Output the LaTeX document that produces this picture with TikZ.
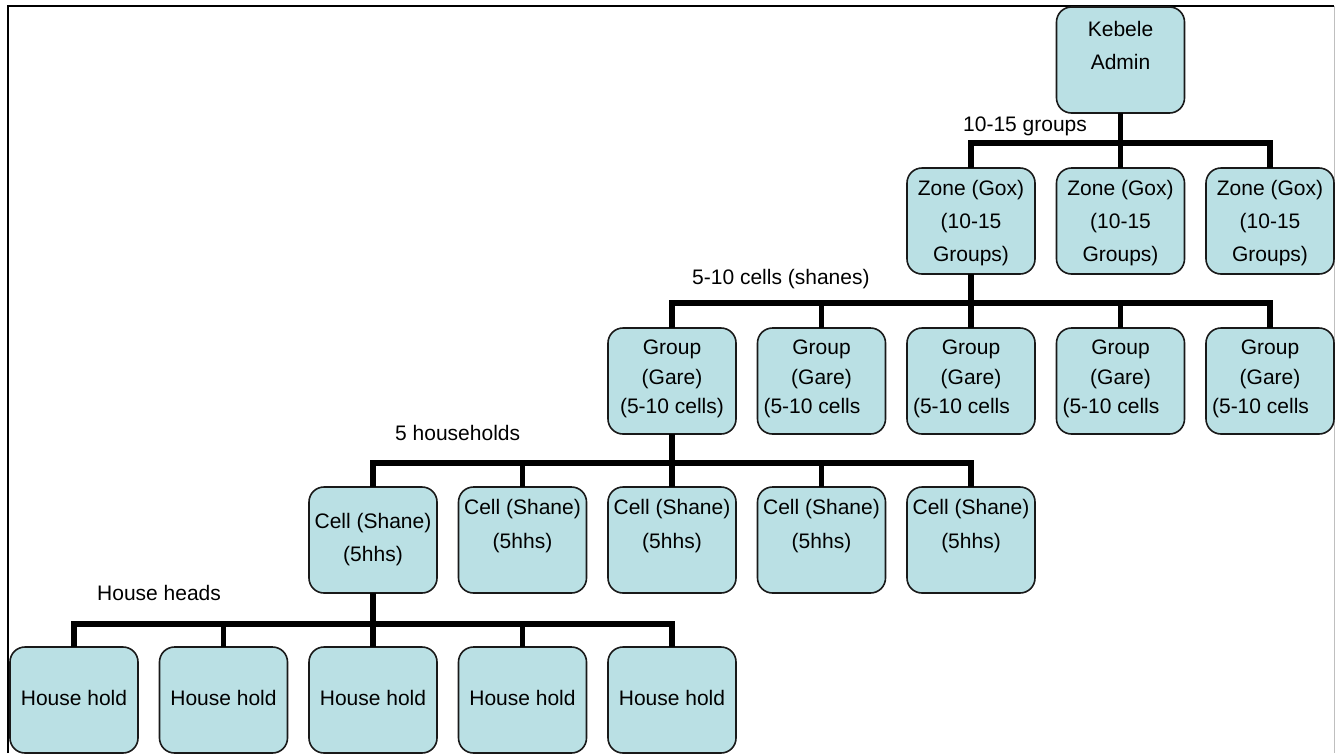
\documentclass[tikz,border=0pt]{standalone}
\usepackage{fontspec}
\setmainfont{Liberation Sans}
\definecolor{boxfill}{RGB}{186,224,228}
\newcommand{\bt}[3]{\parbox[c][106pt][t]{128pt}{\centering\fontsize{21}{#2}\selectfont\vspace*{\dimexpr#1pt-20pt\relax}\rule{0pt}{20pt}#3}}
\tikzset{
  orgbox/.style={draw=black!90, line width=1.6pt, fill=boxfill, rounded corners=15pt, inner sep=0pt, outer sep=0pt},
  conn/.style={line width=5.5pt, line join=miter},
  lab/.style={anchor=base west, inner sep=0pt, font=\fontsize{21}{25}\selectfont}
}
\begin{document}
\begin{tikzpicture}[x=1pt,y=-1pt]
\useasboundingbox (0,0) rectangle (1335,753);
% frame
\draw[line width=1.5pt] (8,753) -- (8,6) -- (1334,6);
\draw[gray!50, line width=1pt] (1334,6) -- (1334,753);
% bus levels
\coordinate (b1) at (0,143);
\coordinate (b2) at (0,303);
\coordinate (b3) at (0,463);
\coordinate (b4) at (0,624);
% kebele
\node[orgbox] (keb) at (1120.5,60) {\bt{29.5}{33}{Kebele\\Admin}};
% zones
\node[orgbox] (z1) at (971,221) {\bt{27.5}{33}{Zone (Gox)\\(10-15\\Groups)}};
\node[orgbox] (z2) at (1120.5,221) {\bt{27.5}{33}{Zone (Gox)\\(10-15\\Groups)}};
\node[orgbox] (z3) at (1270,221) {\bt{27.5}{33}{Zone (Gox)\\(10-15\\Groups)}};
% groups
\node[orgbox] (g1) at (672,381) {\bt{26.5}{29.5}{Group\\(Gare)\\(5-10 cells)}};
\node[orgbox] (g2) at (821.5,381) {\bt{26.5}{29.5}{Group\\(Gare)\\(5-10 cells\hspace*{19pt}}};
\node[orgbox] (g3) at (971,381) {\bt{26.5}{29.5}{Group\\(Gare)\\(5-10 cells\hspace*{19pt}}};
\node[orgbox] (g4) at (1120.5,381) {\bt{26.5}{29.5}{Group\\(Gare)\\(5-10 cells\hspace*{19pt}}};
\node[orgbox] (g5) at (1270,381) {\bt{26.5}{29.5}{Group\\(Gare)\\(5-10 cells\hspace*{19pt}}};
% cells
\node[orgbox] (c1) at (373,540) {\bt{41.5}{33}{Cell (Shane)\\(5hhs)}};
\node[orgbox] (c2) at (522.5,540) {\bt{27.5}{34}{Cell (Shane)\\(5hhs)}};
\node[orgbox] (c3) at (672,540) {\bt{27.5}{34}{Cell (Shane)\\(5hhs)}};
\node[orgbox] (c4) at (821.5,540) {\bt{27.5}{34}{Cell (Shane)\\(5hhs)}};
\node[orgbox] (c5) at (971,540) {\bt{27.5}{34}{Cell (Shane)\\(5hhs)}};
% households
\node[orgbox] (h1) at (74,700) {\bt{58}{33}{House hold}};
\node[orgbox] (h2) at (223.5,700) {\bt{58}{33}{House hold}};
\node[orgbox] (h3) at (373,700) {\bt{58}{33}{House hold}};
\node[orgbox] (h4) at (522.5,700) {\bt{58}{33}{House hold}};
\node[orgbox] (h5) at (672,700) {\bt{58}{33}{House hold}};
% connectors
\draw[conn] (keb.south) -- (keb.south |- b1);
\draw[conn] (z1.north) -- (z1.north |- b1) -- (z3.north |- b1) -- (z3.north);
\draw[conn] (z2.north) -- (z2.north |- b1);
\draw[conn] (z1.south) -- (z1.south |- b2);
\draw[conn] (g1.north) -- (g1.north |- b2) -- (g5.north |- b2) -- (g5.north);
\draw[conn] (g2.north) -- (g2.north |- b2);
\draw[conn] (g3.north) -- (g3.north |- b2);
\draw[conn] (g4.north) -- (g4.north |- b2);
\draw[conn] (g1.south) -- (g1.south |- b3);
\draw[conn] (c1.north) -- (c1.north |- b3) -- (c5.north |- b3) -- (c5.north);
\draw[conn] (c2.north) -- (c2.north |- b3);
\draw[conn] (c3.north) -- (c3.north |- b3);
\draw[conn] (c4.north) -- (c4.north |- b3);
\draw[conn] (c1.south) -- (c1.south |- b4);
\draw[conn] (h1.north) -- (h1.north |- b4) -- (h5.north |- b4) -- (h5.north);
\draw[conn] (h2.north) -- (h2.north |- b4);
\draw[conn] (h3.north) -- (h3.north |- b4);
\draw[conn] (h4.north) -- (h4.north |- b4);
% labels
\node[lab] (l1) at (963,131) {10-15 groups};
\node[lab] (l2) at (692,284) {5-10 cells (shanes)};
\node[lab] (l3) at (395,440) {5 households};
\node[lab] (l4) at (97,600) {House heads};
\end{tikzpicture}
\end{document}
